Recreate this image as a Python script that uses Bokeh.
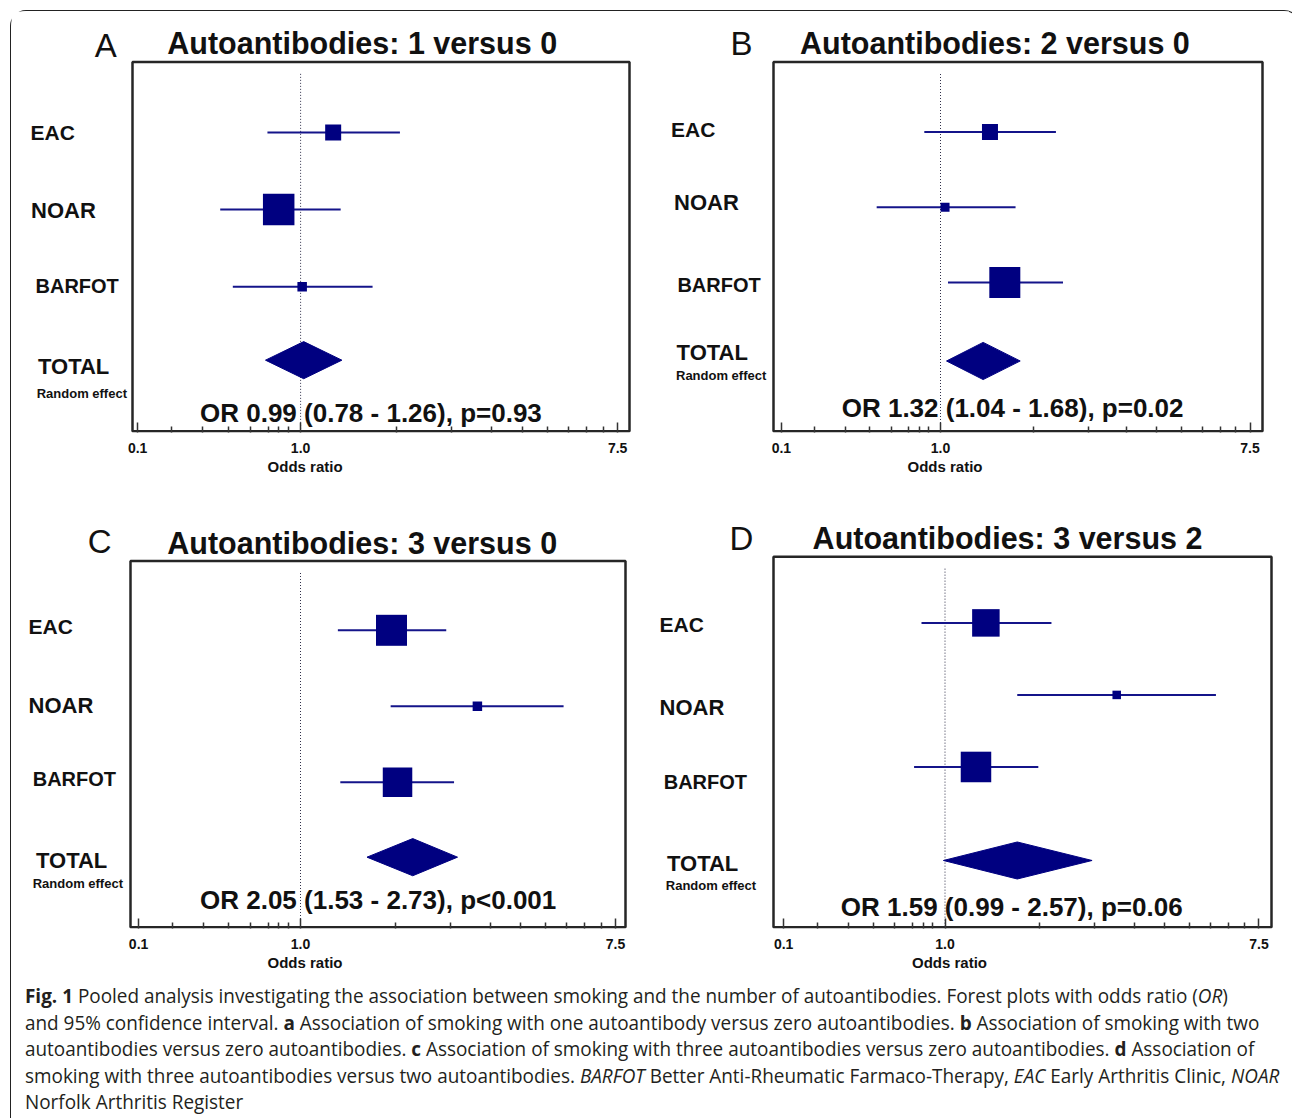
import math
from bokeh.plotting import figure
from bokeh.models import Range1d, FixedTicker, Label, Div, ColumnDataSource, LogAxis
from bokeh.layouts import column, row
from bokeh.embed import file_html
from bokeh.resources import INLINE

# ---------------- data ----------------
studies = ["EAC", "NOAR", "BARFOT"]

# A: autoantibodies 1 versus 0
a_or = [1.23, 0.87, 1.01]
a_lo = [0.81, 0.60, 0.65]
a_hi = [1.88, 1.29, 1.58]
a_weight = [16, 31.5, 9.5]          # square side (px) = study weight
a_total = [1.02, 0.80, 1.30]        # pooled est, lo, hi (diamond as drawn)
a_text = "OR 0.99 (0.78 - 1.26), p=0.93"

# B: autoantibodies 2 versus 0
b_or = [1.38, 1.03, 1.52]
b_lo = [0.90, 0.66, 1.05]
b_hi = [2.12, 1.63, 2.22]
b_weight = [16, 9, 31]
b_total = [1.32, 1.04, 1.68]
b_text = "OR 1.32 (1.04 - 1.68), p=0.02"

# C: autoantibodies 3 versus 0
c_or = [1.79, 3.10, 1.86]
c_lo = [1.27, 1.78, 1.29]
c_hi = [2.54, 5.38, 2.67]
c_weight = [31, 9.5, 29.5]
c_total = [2.05, 1.53, 2.73]
c_text = "OR 2.05 (1.53 - 2.73), p<0.001"

# D: autoantibodies 3 versus 2
d_or = [1.30, 3.01, 1.22]
d_lo = [0.86, 1.59, 0.82]
d_hi = [1.98, 5.69, 1.82]
d_weight = [27.5, 8.5, 30.5]
d_total = [1.59, 0.99, 2.57]
d_text = "OR 1.59 (0.99 - 2.57), p=0.06"

letters = ["A", "B", "C", "D"]
titles = ["Autoantibodies: 1 versus 0", "Autoantibodies: 2 versus 0",
          "Autoantibodies: 3 versus 0", "Autoantibodies: 3 versus 2"]

# axis as printed: ticks labelled 0.1 / 1.0 / 7.5
tick_labels = ["0.1", "1.0", "7.5"]
major_ticks = [0.355, 1.0, 7.5]
left_minor_frac = [0.21, 0.40, 0.555, 0.69, 0.80, 0.865, 0.923]
right_minor_k = [2, 3, 4, 5, 6, 7, 8, 9]
NULL_OR = 1.0
axis_title = "Odds ratio"

minor_ticks = ([major_ticks[0] ** (1 - f) for f in left_minor_frac] +
               [major_ticks[2] ** math.log10(k) for k in right_minor_k])

NAVY = "#000080"
LINE = "#14148a"
BOX = "#262626"
TXT = "#111111"
FONT = "Liberation Sans"

# ---------------- layout (pixels, relative to each figure's top-left) ----------------
panels = [
    dict(data=(a_or, a_lo, a_hi, a_weight, a_total, a_text),
         size=(634, 480), frame_h=422, box=(121, 618, 50.5),
         one_px=289.1, decade_px=362.3, row0=121.3, row_px=77.25, total_row=2.954,
         lab=[(19.1, 121), (19.5, 198.5), (24, 274), (26.5, 355.2), (25.2, 382.2)],
         title=(155.8, 31.8), letter=(83.2, 33.5), ortext=(188.5, 401)),
    dict(data=(b_or, b_lo, b_hi, b_weight, b_total, b_text),
         size=(644, 480), frame_h=421, box=(128, 617, 50.5),
         one_px=295.0, decade_px=353.7, row0=120.5, row_px=75.25, total_row=3.043,
         lab=[(25.5, 118), (28.5, 190.5), (31.9, 273.5), (31.1, 340.5), (30.5, 364.2)],
         title=(154.5, 31.5), letter=(85.1, 31.5), ortext=(196.2, 396.8)),
    dict(data=(c_or, c_lo, c_hi, c_weight, c_total, c_text),
         size=(634, 490), frame_h=437, box=(119, 614, 69.5),
         one_px=289.0, decade_px=360.0, row0=138.8, row_px=75.95, total_row=2.987,
         lab=[(17.1, 135.3), (17.1, 213.5), (21.2, 287.5), (24.5, 369), (21.2, 391.8)],
         title=(155.8, 51.2), letter=(76.3, 50.2), ortext=(188.5, 408.5)),
    dict(data=(d_or, d_lo, d_hi, d_weight, d_total, d_text),
         size=(644, 490), frame_h=439, box=(128, 626, 65.5),
         one_px=299.5, decade_px=358.8, row0=132.0, row_px=72.35, total_row=3.299,
         lab=[(14, 133.2), (14, 215.5), (18.2, 290.2), (21.5, 371.8), (20.3, 393.5)],
         title=(167.1, 46.8), letter=(83.9, 46.5), ortext=(195.3, 415.2)),
]

row_label_text = studies + ["TOTAL", "Random effect"]
row_label_size = ["21px", "22px", "20px", "22px", "13px"]
DIAMOND_HALF_PX = 18.6
DOT_START_PX = 12
ODDS_SHIFT_PX = 4.5


def make_panel(i, cfg):
    est, lo, hi, wt, tot, ortxt = cfg["data"]
    W, H = cfg["size"]
    fh = cfg["frame_h"]
    one, dec = cfg["one_px"], cfg["decade_px"]

    def xv(px):      # data value at a horizontal pixel of the figure
        return 10 ** ((px - one) / dec)

    r0, rs = cfg["row0"], cfg["row_px"]

    def yv(py):      # data value at a vertical pixel of the figure
        return (py - r0) / rs

    x_start, x_end = xv(0), xv(W)
    y_top, y_bot = yv(0), yv(fh)

    p = figure(width=W, height=H, x_axis_type="log",
               x_range=Range1d(x_start, x_end), y_range=Range1d(y_bot, y_top),
               y_axis_location=None, toolbar_location=None, output_backend="svg",
               min_border_left=0, min_border_right=0, min_border_top=0,
               min_border_bottom=H - fh)
    p.title.visible = False
    p.grid.visible = False
    p.background_fill_color = "white"
    p.border_fill_color = "white"
    p.outline_line_color = None

    ax = p.xaxis[0]
    ax.ticker = FixedTicker(ticks=major_ticks, minor_ticks=minor_ticks)
    ax.major_label_overrides = {t: l for t, l in zip(major_ticks, tick_labels)}
    ax.axis_line_color = None
    ax.major_tick_in = 10
    ax.major_tick_out = 0
    ax.minor_tick_in = 6
    ax.minor_tick_out = 0
    ax.major_tick_line_color = "#333333"
    ax.minor_tick_line_color = "#333333"
    ax.major_tick_line_width = 1.5
    ax.minor_tick_line_width = 1.5
    ax.major_label_standoff = 10
    ax.major_label_text_font = FONT
    ax.major_label_text_font_style = "bold"
    ax.major_label_text_font_size = "14px"
    ax.major_label_text_color = TXT

    # second axis row carrying the axis title, centred just right of 1.0
    odds_x = NULL_OR * 10 ** (ODDS_SHIFT_PX / dec)
    ax2 = LogAxis(ticker=FixedTicker(ticks=[odds_x], minor_ticks=[]),
                  major_label_overrides={odds_x: axis_title},
                  axis_line_color=None, major_tick_in=0, major_tick_out=0,
                  major_tick_line_color=None, minor_tick_line_color=None,
                  major_label_standoff=2, major_label_text_font=FONT,
                  major_label_text_font_style="bold",
                  major_label_text_font_size="15px", major_label_text_color=TXT)
    p.add_layout(ax2, "below")

    # plot box
    bl, br, bt = cfg["box"]
    p.quad(left=[xv(bl)], right=[xv(br)], top=[yv(bt)], bottom=[yv(fh - 1.25)],
           fill_color=None, line_color=BOX, line_width=2.5)

    # reference line at OR = 1
    p.segment(x0=[NULL_OR], y0=[yv(bt + DOT_START_PX)], x1=[NULL_OR], y1=[y_bot],
              line_color="#30304a", line_width=1, line_dash="1 2")

    src = ColumnDataSource(dict(study=studies, est=est, lo=lo, hi=hi, size=wt,
                                row=list(range(len(studies)))))
    p.segment(x0="lo", y0="row", x1="hi", y1="row", source=src,
              line_color=LINE, line_width=2)
    p.rect(x="est", y="row", width="size", height="size", width_units="screen",
           height_units="screen", source=src, fill_color=NAVY, line_color=None)

    t_est, t_lo, t_hi = tot
    tr = cfg["total_row"]
    hh = DIAMOND_HALF_PX / rs
    p.patch(x=[t_lo, t_est, t_hi, t_est], y=[tr, tr - hh, tr, tr + hh],
            fill_color=NAVY, line_color=NAVY, line_width=1)

    def add_label(text, px, py, size, style="bold"):
        p.add_layout(Label(x=x_start, y=y_top, x_offset=px, y_offset=-py,
                           text=text, text_font=FONT, text_font_size=size,
                           text_font_style=style, text_align="left",
                           text_baseline="middle", text_color=TXT))

    for txt, sz, (px, py) in zip(row_label_text, row_label_size, cfg["lab"]):
        add_label(txt, px, py, sz)
    add_label(titles[i], cfg["title"][0], cfg["title"][1], "30.5px")
    add_label(letters[i], cfg["letter"][0], cfg["letter"][1], "33px", style="normal")
    add_label(ortxt, cfg["ortext"][0], cfg["ortext"][1], "26px")
    return p


figs = [make_panel(i, c) for i, c in enumerate(panels)]

caption_lines = [
    "<b>Fig. 1</b> Pooled analysis investigating the association between smoking and the number of autoantibodies. Forest plots with odds ratio (<i>OR</i>)",
    "and 95% confidence interval. <b>a</b> Association of smoking with one autoantibody versus zero autoantibodies. <b>b</b> Association of smoking with two",
    "autoantibodies versus zero autoantibodies. <b>c</b> Association of smoking with three autoantibodies versus zero autoantibodies. <b>d</b> Association of",
    "smoking with three autoantibodies versus two autoantibodies. <i>BARFOT</i> Better Anti-Rheumatic Farmaco-Therapy, <i>EAC</i> Early Arthritis Clinic, <i>NOAR</i>",
    "Norfolk Arthritis Register",
]
caption_html = ('<div style="margin-top:-3px; padding-left:9.5px; '
                'font-family:\'Open Sans\', sans-serif; font-size:20px; line-height:26.5px; '
                'color:#231f20; white-space:nowrap; transform:scaleX(0.946); '
                'transform-origin:left top;">' + "<br>".join(caption_lines) + "</div>")
caption = Div(text=caption_html, width=1278, height=127)

layout = column(row(figs[0], figs[1]), row(figs[2], figs[3]), caption,
                margin=(10, 0, 0, 10),
                styles={"border": "1.5px solid #222222", "border-bottom": "none",
                        "border-radius": "16px 16px 0 0"})

open("out.html", "w").write(file_html(layout, INLINE))
